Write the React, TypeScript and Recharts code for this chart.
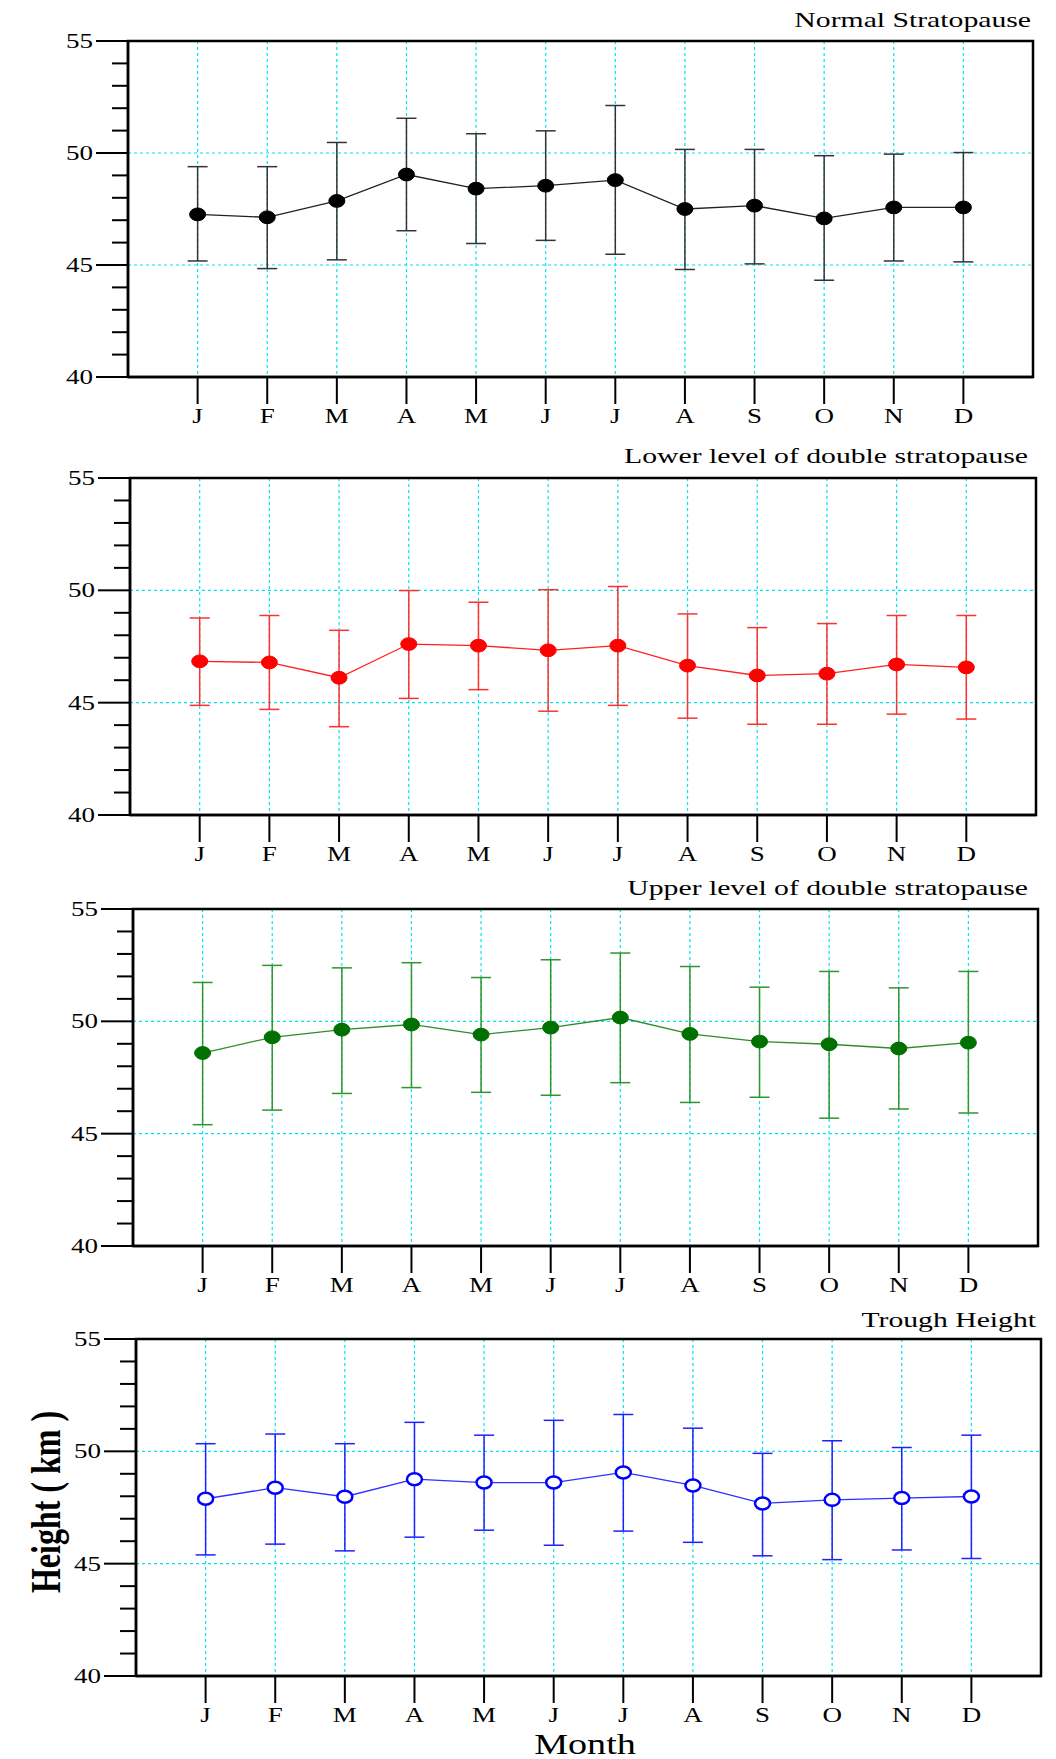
import {
  CartesianGrid,
  ComposedChart,
  ErrorBar,
  Line,
  ReferenceArea,
  XAxis,
  YAxis,
} from 'recharts'

const months = ['J', 'F', 'M', 'A', 'M', 'J', 'J', 'A', 'S', 'O', 'N', 'D']
const monthPos = [1, 2, 3, 4, 5, 6, 7, 8, 9, 10, 11, 12]
const heightTicks = [40, 41, 42, 43, 44, 45, 46, 47, 48, 49, 50, 51, 52, 53, 54, 55]
const gridHeights = [45, 50]

// Normal stratopause (km)
const normalMean = [47.26, 47.13, 47.86, 49.04, 48.41, 48.54, 48.79, 47.5, 47.65, 47.08, 47.57, 47.57]
const normalUpper = [49.39, 49.39, 50.47, 51.55, 50.86, 50.99, 52.12, 50.16, 50.16, 49.88, 49.95, 50.02]
const normalLower = [45.18, 44.84, 45.23, 46.53, 45.96, 46.1, 45.48, 44.8, 45.05, 44.32, 45.18, 45.14]

// lower level of double stratopause
const lowerMean = [46.84, 46.79, 46.11, 47.61, 47.54, 47.33, 47.54, 46.65, 46.21, 46.29, 46.7, 46.57]
const lowerUpper = [48.77, 48.88, 48.22, 49.99, 49.47, 50.03, 50.17, 48.95, 48.34, 48.52, 48.88, 48.88]
const lowerLower = [44.88, 44.7, 43.93, 45.19, 45.58, 44.62, 44.88, 44.31, 44.04, 44.04, 44.49, 44.27]

// upper level of double stratopause
const upperMean = [48.59, 49.29, 49.63, 49.86, 49.41, 49.72, 50.17, 49.44, 49.1, 48.98, 48.79, 49.05]
const upperUpper = [51.73, 52.49, 52.38, 52.61, 51.95, 52.74, 53.04, 52.44, 51.52, 52.22, 51.49, 52.22]
const upperLower = [45.4, 46.05, 46.79, 47.05, 46.84, 46.71, 47.27, 46.39, 46.62, 45.69, 46.1, 45.92]

// trough height
const troughMean = [47.89, 48.38, 47.98, 48.76, 48.61, 48.61, 49.06, 48.48, 47.68, 47.84, 47.92, 47.99]
const troughUpper = [50.34, 50.77, 50.34, 51.29, 50.72, 51.38, 51.64, 51.03, 49.91, 50.47, 50.17, 50.72]
const troughLower = [45.39, 45.87, 45.57, 46.18, 46.49, 45.82, 46.45, 45.95, 45.35, 45.18, 45.61, 45.23]

const FONT = '"Liberation Serif", "Times New Roman", serif'
const STRETCH = 1.35
const W = 1056
const TOP_PAD = 40
const BOTTOM_PAD = 60

function buildRows(mean: number[], upper: number[], lower: number[]) {
  return monthPos.map((m, i) => ({
    m,
    mean: mean[i],
    err: [mean[i] - lower[i], upper[i] - mean[i]],
  }))
}

function YTick(props: any) {
  const { x, y, payload } = props
  const v = payload.value as number
  const major = v % 5 === 0
  return (
    <g>
      <line x1={x - (major ? 32 : 16)} x2={x} y1={y} y2={y} stroke="#000" strokeWidth={2} />
      {major && (
        <text
          transform={`translate(${x - 35},${y + 7}) scale(${STRETCH},1)`}
          textAnchor="end"
          fontFamily={FONT}
          fontSize={20}
          fill="#000"
        >
          {v}
        </text>
      )}
    </g>
  )
}

function XTick(props: any) {
  const { x, y, payload } = props
  return (
    <g>
      <line x1={x} x2={x} y1={y} y2={y + 27} stroke="#000" strokeWidth={2} />
      <text
        transform={`translate(${x},${y + 46}) scale(${STRETCH},1)`}
        textAnchor="middle"
        fontFamily={FONT}
        fontSize={20}
        fill="#000"
      >
        {months[payload.value - 1]}
      </text>
    </g>
  )
}

interface PanelProps {
  rows: { m: number; mean: number; err: number[] }[]
  left: number
  right: number
  top: number
  bottom: number
  dotColor: string
  lineColor: string
  barColor: string
  hollow?: boolean
}

function Panel({ rows, left, right, top, bottom, dotColor, lineColor, barColor, hollow }: PanelProps) {
  const h = TOP_PAD + (bottom - top) + BOTTOM_PAD
  const renderDot = (p: any) => (
    <ellipse
      key={`d${p.index}`}
      cx={p.cx}
      cy={p.cy}
      rx={hollow ? 7.5 : 8}
      ry={hollow ? 6 : 6.4}
      fill={hollow ? '#fff' : dotColor}
      stroke={dotColor}
      strokeWidth={hollow ? 2.5 : 1}
    />
  )
  return (
    <div style={{ position: 'absolute', left: 0, top: top - TOP_PAD }}>
      <ComposedChart
        width={W}
        height={h}
        data={rows}
        margin={{ top: TOP_PAD, right: W - right, left: 0, bottom: 0 }}
      >
        <CartesianGrid
          stroke="#00e4ee"
          strokeWidth={1.2}
          strokeDasharray="3 3"
          horizontalValues={gridHeights}
          verticalValues={monthPos}
        />
        <XAxis
          dataKey="m"
          type="number"
          domain={[0, 13]}
          ticks={monthPos}
          interval={0}
          height={BOTTOM_PAD}
          tickSize={0}
          tickMargin={0}
          tickLine={false}
          tick={<XTick />}
          axisLine={{ stroke: '#000', strokeWidth: 2.5 }}
        />
        <YAxis
          type="number"
          domain={[40, 55]}
          ticks={heightTicks}
          interval={0}
          width={left}
          tickSize={0}
          tickMargin={0}
          tickLine={false}
          tick={<YTick />}
          axisLine={{ stroke: '#000', strokeWidth: 2.5 }}
        />
        <ReferenceArea
          x1={0}
          x2={13}
          y1={40}
          y2={55}
          fill="none"
          fillOpacity={0}
          stroke="#000"
          strokeWidth={2.5}
          ifOverflow="visible"
        />
        <Line
          dataKey="mean"
          stroke={lineColor}
          strokeWidth={1.3}
          dot={renderDot}
          activeDot={false}
          isAnimationActive={false}
        >
          <ErrorBar
            dataKey="err"
            direction="y"
            width={10}
            stroke={barColor}
            strokeWidth={1.5}
            isAnimationActive={false}
          />
        </Line>
      </ComposedChart>
    </div>
  )
}

export default function App() {
  return (
    <div style={{ position: 'absolute', left: 0, top: 0, width: W, height: 1759, background: '#fff' }}>
      <Panel
        rows={buildRows(normalMean, normalUpper, normalLower)}
        left={128}
        right={1033}
        top={41}
        bottom={377}
        dotColor="#000"
        lineColor="#222"
        barColor="#333"
      />
      <Panel
        rows={buildRows(lowerMean, lowerUpper, lowerLower)}
        left={130}
        right={1036}
        top={478}
        bottom={815}
        dotColor="#ff0000"
        lineColor="#ff2020"
        barColor="#ff3030"
      />
      <Panel
        rows={buildRows(upperMean, upperUpper, upperLower)}
        left={133}
        right={1038}
        top={909}
        bottom={1246}
        dotColor="#007000"
        lineColor="#2e8b2e"
        barColor="#2f952f"
      />
      <Panel
        rows={buildRows(troughMean, troughUpper, troughLower)}
        left={136}
        right={1041}
        top={1339}
        bottom={1676}
        dotColor="#0000ff"
        lineColor="#3030ff"
        barColor="#2020ff"
        hollow
      />
      <svg
        width={W}
        height={1759}
        style={{ position: 'absolute', left: 0, top: 0, pointerEvents: 'none' }}
        fontFamily={FONT}
        fill="#000"
      >
        <text transform={`translate(1031,27) scale(${STRETCH},1)`} textAnchor="end" fontSize={22}>
          Normal Stratopause
        </text>
        <text transform={`translate(1028,463) scale(${STRETCH},1)`} textAnchor="end" fontSize={22}>
          Lower level of double stratopause
        </text>
        <text transform={`translate(1028,895) scale(${STRETCH},1)`} textAnchor="end" fontSize={22}>
          Upper level of double stratopause
        </text>
        <text transform={`translate(1036,1327) scale(${STRETCH},1)`} textAnchor="end" fontSize={22}>
          Trough Height
        </text>
        <text
          transform="translate(60,1502) scale(1.3,1) rotate(-90)"
          textAnchor="middle"
          fontSize={32}
          fontWeight="bold"
        >
          Height ( km )
        </text>
        <text transform="translate(585,1754) scale(1.27,1)" textAnchor="middle" fontSize={30}>
          Month
        </text>
      </svg>
    </div>
  )
}
